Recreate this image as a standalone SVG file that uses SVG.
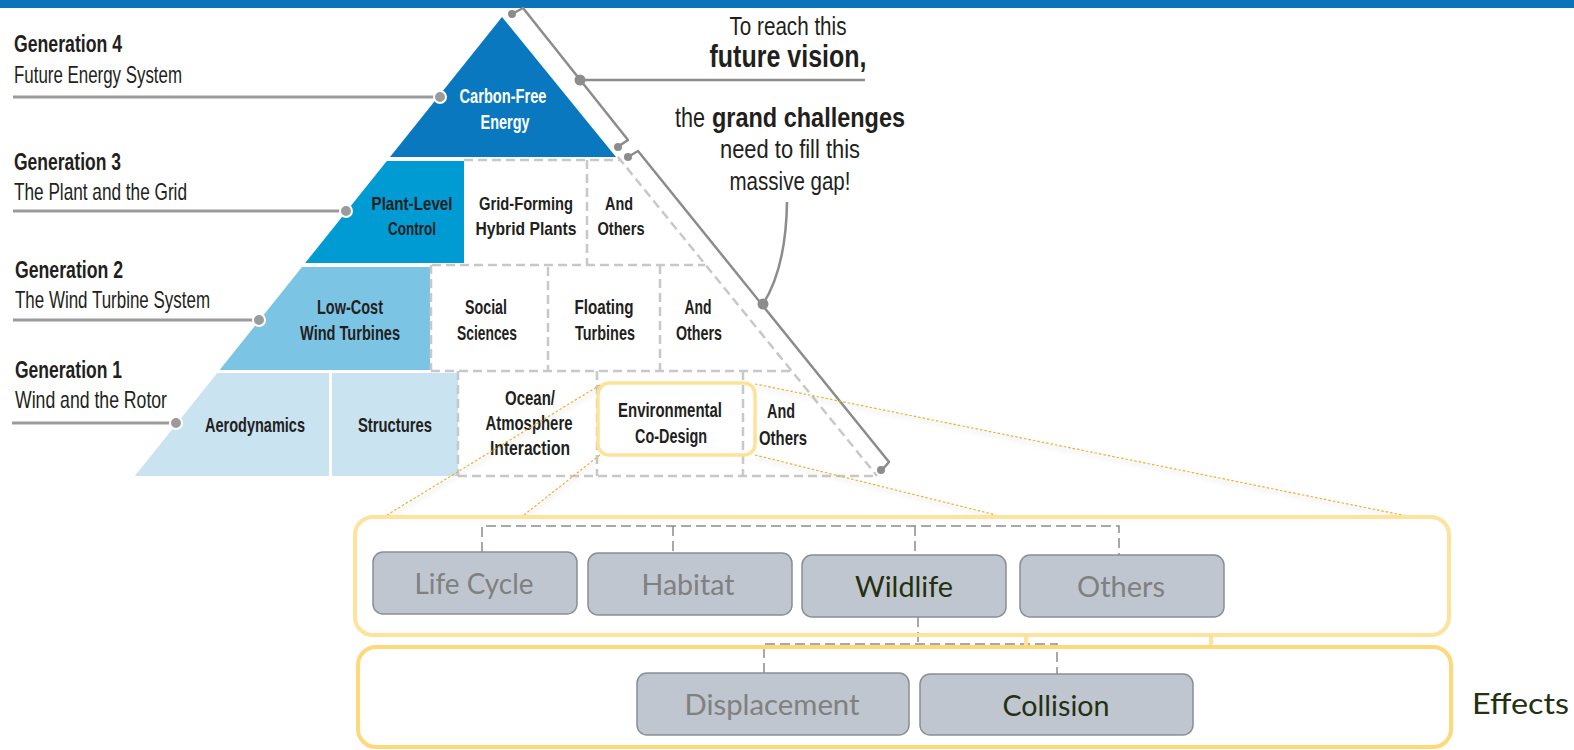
<svg xmlns="http://www.w3.org/2000/svg" width="1574" height="750" viewBox="0 0 1574 750">
  <defs>
    <style>
      .cond { font-family: "Liberation Sans Narrow", "Liberation Sans", Arial, sans-serif; fill: #231f20; }
      .cell { font-weight: bold; font-size: 20.5px; text-anchor: middle; }
      .row3 { font-size: 19px; }
      .gen { font-size: 24px; }
      .genb { font-weight: bold; }
      .note { font-size: 26px; text-anchor: middle; }
      .leader { stroke: #9b9b9b; stroke-width: 3; fill: none; }
      .ldot { fill: #9b9b9b; stroke: #ffffff; stroke-width: 2; }
      .bracket { stroke: #8c8c8c; stroke-width: 2.5; fill: none; stroke-linejoin: round; }
      .bdot { fill: #8c8c8c; }
      .grid { stroke: #c8c8c8; stroke-width: 2.5; stroke-dasharray: 9 5; fill: none; }
      .proj { stroke: #f0b02a; stroke-width: 1.2; stroke-dasharray: 2.5 2; fill: none; }
      .band { fill: none; stroke-width: 4; }
      .box { fill: #bfc6cf; stroke: #8a8f96; stroke-width: 1.5; }
      .lbl { font-family: Lato, "Liberation Sans", sans-serif; font-size: 29px; text-anchor: middle; }
      .dim { fill: #808080; }
      .dark { fill: #24310f; }
      .tree { stroke: #8c8c8c; stroke-width: 1.5; stroke-dasharray: 10 5; fill: none; }
    </style>
    <filter id="soft" x="-10%" y="-10%" width="120%" height="130%">
      <feDropShadow dx="1" dy="3" stdDeviation="2" flood-color="#9a9a9a" flood-opacity="0.6"/>
    </filter>
  </defs>

  <!-- header band -->
  <rect x="0" y="0" width="1574" height="8" fill="#0a74ba"/>

  <!-- pyramid -->
  <g id="pyramid">
    <g id="gen4-carbon-free">
      <polygon points="502,17 616,157 390,157" fill="#0a78be"/>
      <text class="cond cell" x="503" y="103" style="fill:#ffffff" textLength="87" lengthAdjust="spacingAndGlyphs">Carbon-Free</text>
      <text class="cond cell" x="505" y="129" style="fill:#ffffff" textLength="49" lengthAdjust="spacingAndGlyphs">Energy</text>
    </g>
    <g id="gen3-plant-level">
      <polygon points="386.8,161 464,161 464,263 305.2,263" fill="#009bd3"/>
      <text class="cond cell row3" x="412" y="210" textLength="81" lengthAdjust="spacingAndGlyphs">Plant-Level</text>
      <text class="cond cell row3" x="412" y="235" textLength="48" lengthAdjust="spacingAndGlyphs">Control</text>
    </g>
    <g id="gen2-low-cost">
      <polygon points="302,267 430,267 430,370 219.6,370" fill="#7cc4e4"/>
      <text class="cond cell" x="350" y="314" textLength="66" lengthAdjust="spacingAndGlyphs">Low-Cost</text>
      <text class="cond cell" x="350" y="340" textLength="100" lengthAdjust="spacingAndGlyphs">Wind Turbines</text>
    </g>
    <g id="gen1-aerodynamics">
      <polygon points="217.2,373 329,373 329,476 134.8,476" fill="#c9e3f1"/>
      <text class="cond cell" x="255" y="432" textLength="100" lengthAdjust="spacingAndGlyphs">Aerodynamics</text>
    </g>
    <g id="gen1-structures">
      <rect x="332" y="373" width="126" height="103" fill="#c9e3f1"/>
      <text class="cond cell" x="395" y="432" textLength="74" lengthAdjust="spacingAndGlyphs">Structures</text>
    </g>

    <!-- open cells -->
    <g id="grid-lines">
      <path class="grid" d="M618,157 L877,476"/>
      <path class="grid" d="M464,160 H620"/>
      <path class="grid" d="M587,160 V265"/>
      <path class="grid" d="M432,265 H705"/>
      <path class="grid" d="M431,265 V370"/>
      <path class="grid" d="M548,267 V370"/>
      <path class="grid" d="M660,265 V370"/>
      <path class="grid" d="M431,371 H792"/>
      <path class="grid" d="M458,371 V476"/>
      <path class="grid" d="M597,371 V476"/>
      <path class="grid" d="M743,371 V476"/>
      <path class="grid" d="M458,476 H877"/>
    </g>
    <g id="gen3-grid-forming">
      <text class="cond cell row3" x="526" y="210" textLength="94" lengthAdjust="spacingAndGlyphs">Grid-Forming</text>
      <text class="cond cell row3" x="526" y="235" textLength="101" lengthAdjust="spacingAndGlyphs">Hybrid Plants</text>
    </g>
    <g id="gen3-others">
      <text class="cond cell row3" x="619" y="210" textLength="28" lengthAdjust="spacingAndGlyphs">And</text>
      <text class="cond cell row3" x="621" y="235" textLength="47" lengthAdjust="spacingAndGlyphs">Others</text>
    </g>
    <g id="gen2-social">
      <text class="cond cell" x="486" y="314" textLength="42" lengthAdjust="spacingAndGlyphs">Social</text>
      <text class="cond cell" x="487" y="340" textLength="60" lengthAdjust="spacingAndGlyphs">Sciences</text>
    </g>
    <g id="gen2-floating">
      <text class="cond cell" x="604" y="314" textLength="59" lengthAdjust="spacingAndGlyphs">Floating</text>
      <text class="cond cell" x="605" y="340" textLength="60" lengthAdjust="spacingAndGlyphs">Turbines</text>
    </g>
    <g id="gen2-others">
      <text class="cond cell" x="698" y="314" textLength="27" lengthAdjust="spacingAndGlyphs">And</text>
      <text class="cond cell" x="699" y="340" textLength="46" lengthAdjust="spacingAndGlyphs">Others</text>
    </g>
    <g id="gen1-ocean">
      <text class="cond cell" x="530" y="405" textLength="50" lengthAdjust="spacingAndGlyphs">Ocean/</text>
      <text class="cond cell" x="529" y="430" textLength="87" lengthAdjust="spacingAndGlyphs">Atmosphere</text>
      <text class="cond cell" x="530" y="455" textLength="80" lengthAdjust="spacingAndGlyphs">Interaction</text>
    </g>
    <g id="gen1-environmental">
      <rect x="598" y="383" width="157" height="72" rx="11" fill="none" stroke="#fde39a" stroke-width="3.5"/>
      <text class="cond cell" x="670" y="417" textLength="104" lengthAdjust="spacingAndGlyphs">Environmental</text>
      <text class="cond cell" x="671" y="443" textLength="72" lengthAdjust="spacingAndGlyphs">Co-Design</text>
    </g>
    <g id="gen1-others">
      <text class="cond cell" x="781" y="418" textLength="28" lengthAdjust="spacingAndGlyphs">And</text>
      <text class="cond cell" x="783" y="445" textLength="48" lengthAdjust="spacingAndGlyphs">Others</text>
    </g>
  </g>

  <!-- generation labels with leaders -->
  <g id="gen4-label">
    <text class="cond gen genb" x="14" y="52" textLength="108" lengthAdjust="spacingAndGlyphs">Generation 4</text>
    <text class="cond gen" x="14" y="83" textLength="168" lengthAdjust="spacingAndGlyphs">Future Energy System</text>
  </g>
  <g id="gen3-label">
    <text class="cond gen genb" x="14" y="170" textLength="107" lengthAdjust="spacingAndGlyphs">Generation 3</text>
    <text class="cond gen" x="14" y="200" textLength="173" lengthAdjust="spacingAndGlyphs">The Plant and the Grid</text>
  </g>
  <g id="gen2-label">
    <text class="cond gen genb" x="15" y="278" textLength="108" lengthAdjust="spacingAndGlyphs">Generation 2</text>
    <text class="cond gen" x="15" y="308" textLength="195" lengthAdjust="spacingAndGlyphs">The Wind Turbine System</text>
  </g>
  <g id="gen1-label">
    <text class="cond gen genb" x="15" y="378" textLength="107" lengthAdjust="spacingAndGlyphs">Generation 1</text>
    <text class="cond gen" x="15" y="408" textLength="152" lengthAdjust="spacingAndGlyphs">Wind and the Rotor</text>
  </g>

  <!-- annotation text -->
  <g id="vision-note">
    <text class="cond note" x="788" y="35" textLength="117" lengthAdjust="spacingAndGlyphs">To reach this</text>
    <text class="cond note" x="788" y="67" style="font-weight:bold;font-size:31px" textLength="157" lengthAdjust="spacingAndGlyphs">future vision,</text>
  </g>
  <g id="gap-note">
    <text class="cond" x="675" y="127" style="font-size:28px" textLength="30" lengthAdjust="spacingAndGlyphs">the</text>
    <text class="cond" x="712" y="127" style="font-size:28px;font-weight:bold" textLength="193" lengthAdjust="spacingAndGlyphs">grand challenges</text>
    <text class="cond note" x="790" y="158" style="font-size:25px" textLength="140" lengthAdjust="spacingAndGlyphs">need to fill this</text>
    <text class="cond note" x="790" y="190" style="font-size:25px" textLength="121" lengthAdjust="spacingAndGlyphs">massive gap!</text>
  </g>

  <!-- connectors -->
  <g id="connectors">
    <!-- generation leaders -->
    <path class="leader" d="M13,97 H440"/>
    <circle class="ldot" cx="440" cy="97" r="6"/>
    <path class="leader" d="M13,211 H346"/>
    <circle class="ldot" cx="346" cy="211" r="6"/>
    <path class="leader" d="M13,320 H259"/>
    <circle class="ldot" cx="259" cy="320" r="6"/>
    <path class="leader" d="M12,423 H176"/>
    <circle class="ldot" cx="176" cy="423" r="6"/>

    <!-- brackets along the pyramid side -->
    <path class="bracket" d="M512,14 L523,8 L628,140 L619,146"/>
    <circle class="bdot" cx="512" cy="14" r="4"/>
    <circle class="bdot" cx="618" cy="147" r="4"/>
    <path class="bracket" d="M580,80 H865"/>
    <circle class="bdot" cx="580" cy="80" r="5.5"/>

    <path class="bracket" d="M628,157 L638,151 L889,462 L882,470"/>
    <circle class="bdot" cx="628" cy="157" r="4"/>
    <circle class="bdot" cx="881" cy="470" r="4"/>
    <path class="bracket" d="M787,202 Q786,268 763,304"/>
    <circle class="bdot" cx="763" cy="304" r="5.5"/>

    <!-- projection of the highlighted cell -->
    <g filter="url(#soft)">
      <path class="proj" d="M600,385 L387,515"/>
      <path class="proj" d="M600,455 L524,515"/>
      <path class="proj" d="M755,384 L1402,515"/>
      <path class="proj" d="M755,455 L996,515"/>
    </g>

    <!-- topic tree -->
    <path class="tree" d="M482,552 V526 H1119 V555"/>
    <path class="tree" d="M673,526 V553"/>
    <path class="tree" d="M915,526 V555"/>
    <path class="tree" d="M918,617 V644"/>
    <path class="tree" d="M764,673 V644 H1057 V674"/>

    <!-- links between the two bands -->
    <path d="M1026,634 V648 M1211,634 V648" stroke="#fde39c" stroke-width="4" fill="none"/>
  </g>

  <!-- topic bands -->
  <g id="topics-band">
    <rect class="band" x="355" y="517" width="1094" height="118" rx="18" stroke="#fde39c"/>
  </g>
  <g id="effects-band">
    <rect class="band" x="358" y="647" width="1093" height="100" rx="18" stroke="#fed97c"/>
  </g>

  <g id="life-cycle">
    <rect class="box" x="373" y="552" width="204" height="62" rx="10"/>
    <text class="lbl dim" x="474" y="594" textLength="119" lengthAdjust="spacingAndGlyphs">Life Cycle</text>
  </g>
  <g id="habitat">
    <rect class="box" x="588" y="553" width="204" height="62" rx="10"/>
    <text class="lbl dim" x="688" y="595" textLength="93" lengthAdjust="spacingAndGlyphs">Habitat</text>
  </g>
  <g id="wildlife">
    <rect class="box" x="802" y="555" width="204" height="62" rx="10"/>
    <text class="lbl dark" x="904" y="597" textLength="98" lengthAdjust="spacingAndGlyphs">Wildlife</text>
  </g>
  <g id="others">
    <rect class="box" x="1020" y="555" width="204" height="62" rx="10"/>
    <text class="lbl dim" x="1121" y="597" textLength="88" lengthAdjust="spacingAndGlyphs">Others</text>
  </g>
  <g id="displacement">
    <rect class="box" x="637" y="673" width="272" height="62" rx="10"/>
    <text class="lbl dim" x="772" y="715" textLength="175" lengthAdjust="spacingAndGlyphs">Displacement</text>
  </g>
  <g id="collision">
    <rect class="box" x="920" y="674" width="273" height="61" rx="10"/>
    <text class="lbl dark" x="1056" y="716" textLength="107" lengthAdjust="spacingAndGlyphs">Collision</text>
  </g>
  <g id="effects-label">
    <text class="lbl dark" x="1472" y="714" style="text-anchor:start" textLength="97" lengthAdjust="spacingAndGlyphs">Effects</text>
  </g>
</svg>
